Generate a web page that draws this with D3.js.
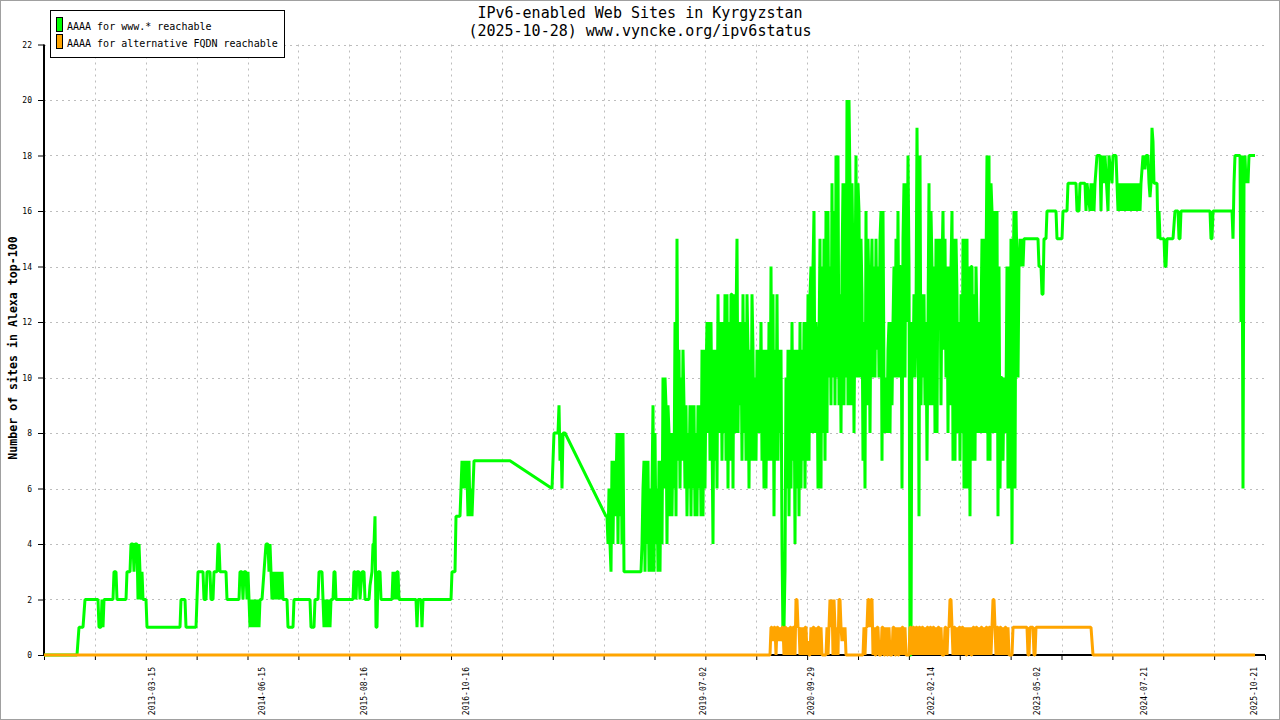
<!DOCTYPE html>
<html>
<head>
<meta charset="utf-8">
<script src="https://cdn.jsdelivr.net/npm/d3@7"></script>
<style>
  html, body { margin: 0; padding: 0; background: #fff; }
  svg { display: block; }
  text { font-family: "DejaVu Sans Mono", monospace; }
</style>
</head>
<body>
<svg id="chart" width="1280" height="720"></svg>
<script>
// ---------------- DATA ----------------
const titleLines = ["IPv6-enabled Web Sites in Kyrgyzstan", "(2025-10-28) www.vyncke.org/ipv6status"];
const yAxisTitle = "Number of sites in Alexa top-100";
const seriesNames = ["AAAA for www.* reachable", "AAAA for alternative FQDN reachable"];
const seriesColors = ["#00ff00", "#ffa500"];

// x = sample number (the chart's x axis is indexed by sample, not by calendar time)
const SAMPLE_COUNT = 1221;
const TICK_INTERVALS = 24;
const yTickValues = [0, 2, 4, 6, 8, 10, 12, 14, 16, 18, 20, 22];

// date labels and the sample number they belong to
const xLabelSamples = [108, 218, 320, 422, 659, 767, 887, 993, 1100, 1210];
const xLabelDates = ["2013-03-15", "2014-06-15", "2015-08-16", "2016-10-16", "2019-07-02",
                     "2020-09-29", "2022-02-14", "2023-05-02", "2024-07-21", "2025-10-21"];

// "AAAA for www.* reachable": [sample, sites]
const wwwEarly = [[0,0],[33,0],[34,0.5],[35,1],[39,1],[40,1.5],[41,2],[54,2],[55,1],[57,1],[58,2],[59,1],[60,2],
  [69,2],[70,3],[72,3],[73,2],[82,2],[83,3],[86,3],[87,4],[89,4],[90,3],[91,4],[93,4],[94,2],[95,4],[96,3],[97,2],
  [98,3],[99,2],[102,2],[103,1],[136,1],[137,2],[141,2],[142,1],[152,1],[153,2],[154,3],[159,3],[160,2],[162,2],
  [163,3],[166,3],[167,2],[169,2],[170,3],[173,3],[174,4],[175,4],[176,3],[182,3],[183,2],[195,2],[196,3],[198,3],
  [199,2],[200,3],[202,3],[203,2],[204,3],[205,2],[206,1],[207,2],[208,1],[209,2],[210,1],[211,2],[212,1],[214,2],
  [215,1],[216,2],[218,2],[220,3],[222,4],[224,4],[225,3],[226,4],[227,3],[228,2],[229,3],[230,2],[231,3],[232,2],
  [233,3],[234,2],[236,3],[237,2],[238,3],[239,2],[243,2],[244,1],[249,1],[250,2],[266,2],[267,1],[270,1],[271,2],
  [274,2],[275,3],[278,3],[279,2],[280,1],[281,2],[282,1],[283,2],[284,1],[285,2],[286,1],[287,2],[289,2],[290,3],
  [291,3],[292,2],[309,2],[310,3],[311,3],[312,2],[313,3],[315,3],[316,2],[318,3],[320,3],[321,2],[325,2],[326,2.5],
  [328,3],[329,4],[330,4],[331,5],[332,1],[333,1],[334,3],[336,3],[337,2],[348,2],[349,3],[350,2],[351,3],[352,2],
  [353,3],[354,3],[355,2],[372,2],[373,1],[374,2],[377,2],[378,1],[379,2],[407,2],[408,3],[411,3],[412,5],[416,5],
  [417,6],[418,7],[419,6],[420,7],[421,6],[422,7],[423,6.5],[424,5],[425,7],[426,5],[427,6],[428,5],[429,6],[430,7],
  [466,7],[508,6],[509,7],[510,8],[514,8],[515,9],[516,7],[517,8],[518,6],[519,8],[521,8],[562,5]];
// one value per sample from sample 563 on
const wwwDenseStart = 563;
const wwwDense = [5,4,6,4,3, 7,4,7,5,6, 8,4,8,5,8,4,8,
  3,3,3,3,3,3,3,3,3,3,3,3,3,3,3,3,3,3,
  4,6, 7,3,7,4,7,3, 6,3,6, 9,3,8,4, 6,3,7,3, 7,4,10,6,10, 9,4,9, 8,5,8,5,8,6, 12,5,15,
  7,11,6,10,7,11, 9,6,9,5,8,6,9,5,9,6,9,5,8,5,9,6,9,5, 11,5,11,6,10, 12,8,12,7,12,8,4,11,7,
  11,6,13,8,11, 12,7,12,8,13,7, 13,6,12,7,13, 13,6,13,8,12, 15,8,12,9, 12,7,13,8,12,7,13,
  11,6,11,7,13, 11,7,10,7,11,8, 11,8,12,7,11,6, 11,6,11,7, 12,7,14,7,13,5, 11,7,13,7, 11,8,11,
  4,0.5,1,3,10, 6,11,5,11,6, 12,7,11,4,11, 6,11,5,12, 6,11,7,12,6, 12,7,13,7,13, 14,8,14, 16,8,12,
  11,6,11, 15,6,14,8,15,7, 16,8,16,10, 14,9,17,10, 16,9,18,10,18,9, 13,8,14, 17,9,17,10, 20,9,20,
  17,9,17, 14,8,13, 18,10,17, 16,10,15, 13,7,12,6, 16,9,15, 13,8,13, 15,10,14,10,15,11,14,10,15,
  16,7,16, 10,8,10,8,11, 12,8,12,9,12, 14,10,15,10, 16,10,14, 14,6,15, 17,10,17,12, 18,14,0,0,
  12,10,13,10,12, 19,14,5,18, 9,13,10,13,9, 12,7,12, 17,9,16, 14,9,14,8, 15,8,15, 12,15,9,14,
  16,11,15,10, 14,8,14,9,14, 16,7,15,7,15, 13,8,12,7,13,8, 15,6,15,6, 15,6,14,5,14, 14,7,13,7,14,
  12,8,12,8,12, 15,8,15,8,14, 18,7,18,7,17, 16,8,16,8,15, 16,5,14,6,10, 10,7,10,8,9, 14,6,14,6,
  15,4,13, 16,6,16, 14,10,14, 15,14,15,14,15,15];
const wwwLate = [[994,15],[995,14],[997,14],[998,13],[999,13],[1000,15],[1002,15],[1003,16],[1012,16],[1013,15],
  [1018,15],[1019,16],[1023,16],[1024,17],[1032,17],[1033,16],[1035,16],[1036,17],[1041,17],[1042,16],[1043,17],
  [1046,16],[1047,17],[1048,16],[1049,17],[1050,16],[1051,17],[1053,18],[1056,18],[1057,16],[1058,18],[1060,17],
  [1061,18],[1064,16],[1065,18],[1068,17],[1069,18],[1072,18],[1073,17],[1074,16],[1075,17],[1076,16],[1077,17],
  [1079,16],[1080,17],[1081,16],[1082,17],[1084,16],[1085,17],[1086,16],[1087,17],[1089,16],[1090,17],[1091,16],
  [1092,17],[1094,16],[1095,17],[1096,16],[1097,17],[1098,17.5],[1099,18],[1101,17.5],[1102,18],[1104,18],
  [1105,17],[1106,16.5],[1107,17],[1108,19],[1109,18.5],[1110,17],[1113,17],[1114,15],[1115,16],[1116,15],
  [1120,15],[1121,14],[1122,14],[1123,15],[1129,15],[1130,15.5],[1131,16],[1134,16],[1135,15],[1136,15],[1137,16],
  [1166,16],[1167,15],[1168,15],[1169,16],[1188,16],[1189,15],[1190,17],[1191,18],[1196,18],[1197,12],[1198,18],
  [1199,6],[1200,17],[1201,18],[1202,17],[1203,17.5],[1204,17],[1205,18],[1211,18]];

// "AAAA for alternative FQDN reachable": [sample, sites]
const fqdnEarly = [[0,0],[726,0]];
const fqdnDenseStart = 727;
const fqdnDense = [1,1,0.5,1,1,0,1,1,0.5,1, 0.5,1,1,0,1,1,0,1,0,1, 1,0,1,1,0,2,2,1,1,0,
  1,0,1,0,1,1,0,0.5,0,0, 1,0,1,1,0,1,0,1,1,0, 1,0,0,0,0,0,1,0,1,2, 1,2,0,2,1,0,1,0,2,2,
  1,0.5,1,0.5,1,0,0,0,0,0, 0,0,0,0,0,0,0,0,0,0, 0,0,0,1,0,1,1,2,2,1, 2,2,0,1,0,0,1,1,0,0,
  0,1,1,0,0,1,0,0,1,0, 0,0,1,1,0,0,1,0,0,1, 0,1,1,0,1,0,0,0,0,1, 1,0,1,1,0,1,1,0,1,1,
  0,1,1,0,1,0,1,1,0,1, 1,0,1,1,0,1,0,1,1,0, 1,0,0,0,1,1,0,1,1,2, 2,1,0,1,1,0,1,0,1,1,
  0,1,1,0,1,0,0,1,0,1, 0,0,1,1,0,1,1,0,1,0, 1,1,0,1,0,1,1,0,1,1, 0,1,2,2,1,0,1,1,0,1,
  1,0,1,0,1,1,0,1,0,0, 0,0,1];
const fqdnLate = [[970,1],[983,1],[984,0],[985,0],[986,1],[989,1],[990,0],[991,0],[992,1],[1047,1],
  [1048,0.5],[1049,0],[1211,0]];

// ---------------- BUILD ----------------
const wwwSeries = wwwEarly.concat(wwwDense.map((v, k) => [wwwDenseStart + k, v]), wwwLate);
const fqdnSeries = fqdnEarly.concat(fqdnDense.map((v, k) => [fqdnDenseStart + k, v]), fqdnLate);

const W = 1280, H = 720;
const plot = { left: 44, right: 1265, top: 44.5, bottom: 655 };

const svg = d3.select("#chart");
svg.append("rect").attr("x", 0.5).attr("y", 0.5).attr("width", W - 1).attr("height", H - 1)
  .attr("fill", "#fff").attr("stroke", "#a0a0a0").attr("stroke-width", 1);

const x = d3.scaleLinear().domain([0, SAMPLE_COUNT]).range([plot.left, plot.right]);
const y = d3.scaleLinear().domain([0, 22]).range([plot.bottom, plot.top]);
const xTickValues = d3.range(TICK_INTERVALS + 1).map(k => k * SAMPLE_COUNT / TICK_INTERVALS);

// grid
const grid = svg.append("g").attr("stroke", "#bdbdbd").attr("stroke-dasharray", "2,4").attr("stroke-width", 1);
grid.selectAll("line.h").data(yTickValues.filter(v => v > 0)).join("line")
  .attr("x1", plot.left).attr("x2", plot.right)
  .attr("y1", d => Math.round(y(d)) + 0.5).attr("y2", d => Math.round(y(d)) + 0.5);
grid.selectAll("line.v").data(xTickValues.slice(1, -1)).join("line")
  .attr("y1", plot.top).attr("y2", plot.bottom)
  .attr("x1", d => Math.round(x(d)) + 0.5).attr("x2", d => Math.round(x(d)) + 0.5);

// axes
const xAxis = d3.axisBottom(x).tickValues(xTickValues).tickSize(5).tickFormat("");
const gx = svg.append("g").attr("transform", `translate(0,${plot.bottom})`).call(xAxis);
gx.select(".domain").attr("stroke", "#000").attr("stroke-width", 2).attr("d", `M${plot.left},0H${plot.right}`);
gx.selectAll(".tick line").attr("stroke", "#000");

const yAxis = d3.axisLeft(y).tickValues(yTickValues).tickSize(6).tickPadding(6);
const gy = svg.append("g").attr("transform", `translate(${plot.left},0)`).call(yAxis);
gy.select(".domain").attr("stroke", "#000").attr("stroke-width", 2).attr("d", `M0,${plot.top}V${plot.bottom}`);
gy.selectAll(".tick line").attr("stroke", "#000");
gy.selectAll(".tick text").attr("font-family", "DejaVu Sans Mono").attr("font-size", 8).attr("fill", "#000");

// x date labels
svg.append("g").selectAll("text").data(xLabelSamples).join("text")
  .attr("transform", d => `translate(${x(d)},667) rotate(-90)`)
  .attr("text-anchor", "end").attr("dy", "0.35em")
  .attr("font-size", 8).attr("fill", "#000")
  .text((d, i) => xLabelDates[i]);

// lines
const line = d3.line().x(d => x(d[0])).y(d => y(d[1]));
svg.append("path").datum(wwwSeries).attr("d", line)
  .attr("fill", "none").attr("stroke", seriesColors[0]).attr("stroke-width", 3).attr("stroke-linejoin", "bevel");
svg.append("path").datum(fqdnSeries).attr("d", line)
  .attr("fill", "none").attr("stroke", seriesColors[1]).attr("stroke-width", 3).attr("stroke-linejoin", "bevel");

// title
svg.append("g").selectAll("text").data(titleLines).join("text")
  .attr("x", 640).attr("y", (d, i) => 18 + i * 18)
  .attr("text-anchor", "middle").attr("font-size", 15).attr("fill", "#000")
  .text(d => d);

// y axis title
svg.append("text").attr("transform", "translate(13,348) rotate(-90)")
  .attr("text-anchor", "middle").attr("dy", "0.35em")
  .attr("font-size", 11.6).attr("font-weight", "bold").attr("fill", "#000")
  .text(yAxisTitle);

// legend
const lg = svg.append("g");
lg.append("rect").attr("x", 50.5).attr("y", 10.5).attr("width", 234).attr("height", 47)
  .attr("fill", "#fff").attr("stroke", "#000");
seriesNames.forEach((name, i) => {
  lg.append("rect").attr("x", 56.5).attr("y", 17.5 + i * 17).attr("width", 6).attr("height", 14)
    .attr("fill", seriesColors[i]).attr("stroke", "#000").attr("stroke-width", 1);
  lg.append("text").attr("x", 67).attr("y", 29.5 + i * 17)
    .attr("font-size", 10).attr("fill", "#000").text(name);
});
</script>
</body>
</html>
